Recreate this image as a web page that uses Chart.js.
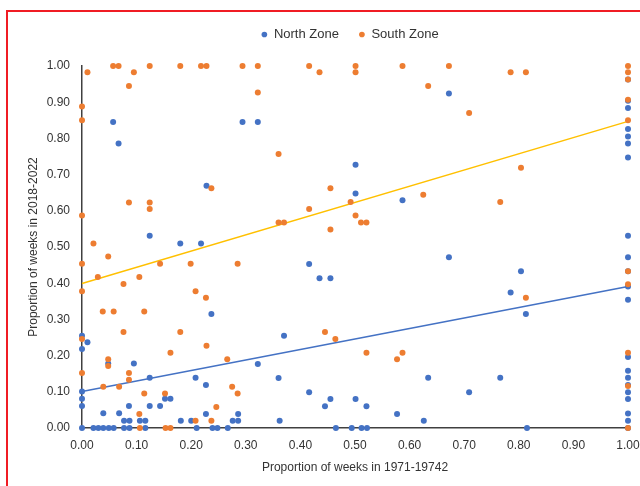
<!DOCTYPE html>
<html><head><meta charset="utf-8">
<script src="https://cdn.jsdelivr.net/npm/chart.js@4.4.0/dist/chart.umd.min.js"></script>
<style>
html,body{margin:0;padding:0;background:#fff;}
#wrap{position:relative;width:640px;height:486px;overflow:hidden;}
#frame{position:absolute;left:6px;top:10px;width:700px;height:600px;border:2px solid #f01c24;box-sizing:border-box;}
canvas{position:absolute;left:0;top:0;}
</style></head>
<body><div id="wrap"><div id="frame"></div><canvas id="c" width="640" height="486"></canvas></div>
<script>
const seriesNames = ['North Zone', 'South Zone'];
const northX = [0,0,0,0,0,0,0.010,0.021,0.030,0.039,0.049,0.058,0.077,0.087,0.116,0.057,0.067,0.228,0.124,0.180,0.218,0.048,0.095,0.124,0.208,0.227,0.086,0.124,0.143,0.152,0.162,0.039,0.068,0.077,0.087,0.106,0.116,0.181,0.200,0.227,0.210,0.239,0.248,0.267,0.294,0.322,0.501,0.501,0.587,0.416,0.435,0.455,0.237,0.370,0.322,0.360,0.416,0.455,0.445,0.501,0.521,0.577,0.626,0.634,0.276,0.286,0.286,0.362,0.465,0.494,0.512,0.522,0.815,0.672,0.672,0.804,0.785,0.813,0.766,0.709,
  1,1,1,1,1,1,1,1,1,1,1,1,1,1,1,1,1,1,1,1,1];
const northY = [0.255,0.218,0.101,0.081,0.061,0,0.237,0,0,0,0,0,0,0,0,0.845,0.786,0.669,0.531,0.510,0.510,0.178,0.178,0.139,0.139,0.119,0.061,0.061,0.061,0.081,0.081,0.041,0.041,0.020,0.020,0.020,0.020,0.020,0.020,0.039,0,0,0,0,0.845,0.845,0.727,0.648,0.629,0.453,0.414,0.414,0.315,0.255,0.177,0.138,0.099,0.080,0.060,0.080,0.060,0.039,0.020,0.139,0.020,0.020,0.039,0.020,0,0,0,0,0,0.924,0.472,0.433,0.374,0.315,0.139,0.099,
  0.963,0.904,0.884,0.826,0.805,0.786,0.747,0.531,0.472,0.433,0.391,0.354,0.196,0.158,0.139,0.119,0.099,0.080,0.040,0.020,0];
const southX = [0,0,0,0,0,0,0,0.010,0.057,0.067,0.095,0.086,0.124,0.180,0.218,0.228,0.086,0.124,0.124,0.021,0.237,0.048,0.029,0.105,0.143,0.199,0.076,0.227,0.208,0.038,0.058,0.114,0.076,0.180,0.228,0.162,0.048,0.048,0.086,0.086,0.039,0.068,0.114,0.152,0.105,0.106,0.153,0.162,0.208,0.237,0.246,0.294,0.322,0.322,0.416,0.435,0.501,0.501,0.587,0.634,0.360,0.455,0.625,0.492,0.416,0.501,0.511,0.521,0.360,0.370,0.455,0.285,0.445,0.464,0.521,0.577,0.587,0.266,0.275,0.285,0.672,0.785,0.813,0.709,0.804,0.766,0.813,
  1,1,1,1,1,1,1,1,1,1];
const southY = [0.888,0.850,0.587,0.454,0.378,0.246,0.152,0.983,1,1,0.983,0.945,1,1,1,1,0.623,0.623,0.605,0.510,0.662,0.474,0.417,0.417,0.454,0.454,0.398,0.360,0.378,0.322,0.322,0.322,0.265,0.265,0.227,0.208,0.190,0.171,0.152,0.133,0.114,0.114,0.095,0.095,0.039,0,0,0,0.020,0.020,0.058,1,1,0.927,1,0.983,1,0.983,1,0.945,0.757,0.662,0.644,0.624,0.605,0.587,0.568,0.568,0.568,0.568,0.548,0.454,0.265,0.246,0.208,0.190,0.208,0.190,0.114,0.095,1,0.983,0.983,0.870,0.719,0.624,0.360,
  1,0.983,0.963,0.907,0.850,0.433,0.397,0.208,0.116,0];
const trendX = [0, 1];
const northTrendY = [0.101, 0.391];
const southTrendY = [0.399, 0.847];

const pts = (xs, ys) => xs.map((x, i) => ({x: x, y: ys[i]}));
const BLUE = '#4472C4', ORANGE = '#ED7D31', GOLD = '#FFC000';
const TXT = '#333333';
const FONT = "'Liberation Sans', Arial, sans-serif";

const legendShift = {
  id: 'legendShift',
  beforeDraw(chart) {
    const L = chart.legend;
    if (L) { L.left = 60; L.right = 640; }
  }
};

new Chart(document.getElementById('c'), {
  type: 'scatter',
  data: {
    datasets: [
      {label: seriesNames[0], data: pts(northX, northY), backgroundColor: BLUE, borderColor: BLUE, pointRadius: 3, pointBorderWidth: 0, order: 2, clip: false},
      {label: seriesNames[1], data: pts(southX, southY), backgroundColor: ORANGE, borderColor: ORANGE, pointRadius: 3, pointBorderWidth: 0, order: 1, clip: false},
      {label: 'North trend', data: pts(trendX, northTrendY), showLine: true, borderColor: BLUE, borderWidth: 1.5, pointRadius: 0, order: 3, clip: false},
      {label: 'South trend', data: pts(trendX, southTrendY), showLine: true, borderColor: GOLD, borderWidth: 1.5, pointRadius: 0, order: 3, clip: false}
    ]
  },
  options: {
    responsive: false,
    animation: false,
    devicePixelRatio: 1,
    layout: {autoPadding: false, padding: {top: 8, right: 12, bottom: 10, left: 0}},
    plugins: {
      tooltip: {enabled: false},
      legend: {
        position: 'top',
        labels: {
          usePointStyle: true, pointStyle: 'circle', boxWidth: 6, boxHeight: 4,
          padding: 20, color: TXT, font: {family: FONT, size: 13},
          filter: (item) => item.datasetIndex < 2,
          sort: (a, b) => a.datasetIndex - b.datasetIndex
        }
      }
    },
    scales: {
      x: {
        type: 'linear', min: 0, max: 1,
        grid: {display: false, drawTicks: false},
        border: {display: true, color: '#404040', width: 1.5},
        ticks: {stepSize: 0.1, padding: 10, color: TXT, font: {family: FONT, size: 12}, callback: v => Number(v).toFixed(2)},
        title: {display: true, text: 'Proportion of weeks in 1971-19742', color: TXT, font: {family: FONT, size: 12}, padding: {top: 4, bottom: 1}},
        afterFit: s => { s.height = 48; s.paddingLeft = 0; s.paddingRight = 0; }
      },
      xTopSpacer: {
        type: 'linear', position: 'top', min: 0, max: 1,
        grid: {display: false, drawTicks: false},
        border: {display: false},
        ticks: {display: false},
        afterFit: s => { s.height = 15; s.paddingLeft = 0; s.paddingRight = 0; }
      },
      y: {
        type: 'linear', min: 0, max: 1,
        grid: {display: false, drawTicks: false},
        border: {display: true, color: '#404040', width: 1.5},
        ticks: {stepSize: 0.1, padding: 12, color: TXT, font: {family: FONT, size: 12}, callback: v => Number(v).toFixed(2)},
        title: {display: true, text: 'Proportion of weeks in 2018-2022', color: TXT, font: {family: FONT, size: 12}, padding: {top: 26, bottom: 0}},
        afterFit: s => { s.width = 82; s.paddingTop = 0; s.paddingBottom = 0; }
      }
    }
  },
  plugins: [legendShift]
});
</script>
</body></html>
